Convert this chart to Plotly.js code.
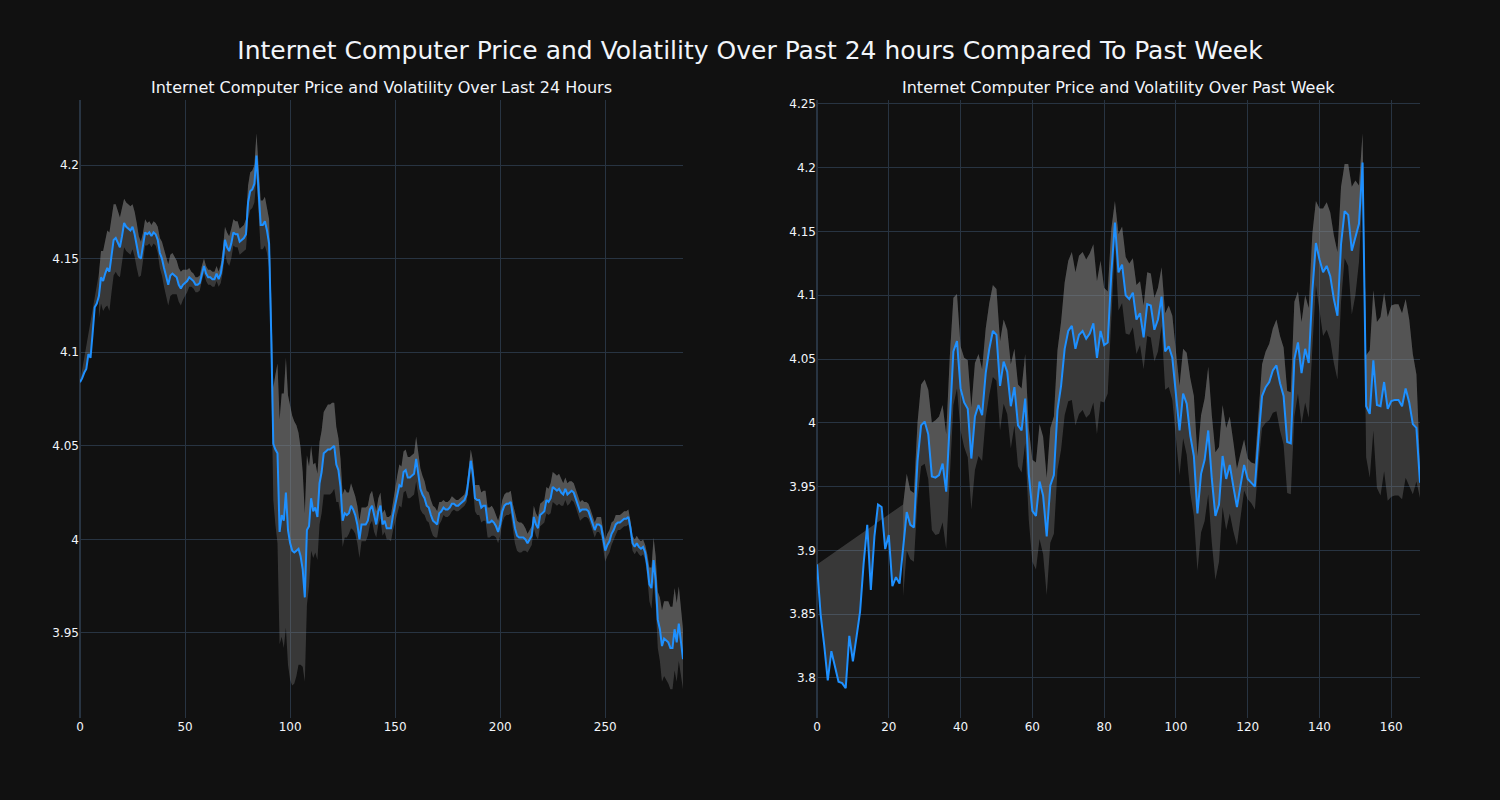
<!DOCTYPE html>
<html>
<head>
<meta charset="utf-8">
<script src="https://cdn.plot.ly/plotly-3.0.1.min.js"></script>
<style>html,body{margin:0;padding:0;background:#111111;}#chart{width:1500px;height:800px;}</style>
</head>
<body>
<div id="chart"></div>
<script>
// ---- Data: last 24 hours (5-minute steps) ----
const dayPrice = [
4.084,4.086,4.089,4.091,4.099,4.097,4.110,4.124,4.126,4.130,
4.140,4.138,4.142,4.145,4.143,4.152,4.160,4.161,4.158,4.156,
4.162,4.169,4.167,4.166,4.165,4.167,4.163,4.157,4.151,4.150,
4.156,4.164,4.163,4.164,4.162,4.164,4.163,4.160,4.153,4.150,
4.145,4.140,4.136,4.141,4.142,4.141,4.140,4.136,4.134,4.136,
4.137,4.138,4.140,4.139,4.138,4.136,4.136,4.137,4.142,4.146,
4.142,4.140,4.140,4.139,4.139,4.142,4.139,4.142,4.149,4.160,
4.156,4.154,4.158,4.164,4.163,4.163,4.159,4.160,4.161,4.163,
4.180,4.186,4.187,4.190,4.205,4.186,4.168,4.168,4.170,4.165,
4.158,4.110,4.051,4.048,4.046,4.004,4.013,4.010,4.025,4.005,
3.998,3.994,3.993,3.994,3.995,3.991,3.984,3.969,4.005,4.007,
4.022,4.015,4.017,4.012,4.030,4.036,4.046,4.047,4.048,4.048,
4.049,4.050,4.040,4.037,4.028,4.010,4.014,4.013,4.014,4.018,
4.016,4.013,4.008,4.000,4.008,4.008,4.008,4.010,4.016,4.018,
4.012,4.008,4.015,4.018,4.008,4.010,4.006,4.006,4.006,4.013,
4.018,4.024,4.029,4.028,4.036,4.037,4.033,4.033,4.034,4.035,
4.043,4.034,4.027,4.024,4.022,4.018,4.017,4.013,4.010,4.009,
4.008,4.014,4.015,4.017,4.016,4.016,4.017,4.019,4.019,4.018,
4.018,4.019,4.020,4.021,4.024,4.032,4.042,4.035,4.022,4.021,
4.021,4.017,4.018,4.018,4.009,4.009,4.010,4.009,4.007,4.004,
4.008,4.015,4.018,4.019,4.019,4.020,4.012,4.006,4.002,4.001,
4.001,4.001,4.000,3.998,4.000,4.002,4.012,4.008,4.006,4.013,
4.014,4.015,4.021,4.020,4.022,4.028,4.027,4.026,4.027,4.025,
4.024,4.027,4.024,4.025,4.026,4.025,4.022,4.019,4.015,4.016,
4.016,4.016,4.015,4.012,4.009,4.005,4.008,4.008,4.007,4.000,
3.994,3.997,3.999,4.003,4.005,4.008,4.009,4.009,4.010,4.011,
4.011,4.012,4.006,3.998,3.996,3.998,3.996,3.995,3.996,3.993,
3.986,3.976,3.974,3.989,3.978,3.957,3.952,3.943,3.947,3.946,
3.945,3.942,3.942,3.952,3.945,3.955,3.946,3.936
];
const dayVol = [
null,null,null,null,null,null,null,null,null,0.012,
0.014,0.016,0.018,0.020,0.021,0.020,0.019,0.018,0.017,0.016,
0.015,0.013,0.013,0.013,0.013,0.012,0.012,0.012,0.011,0.009,
0.008,0.007,0.006,0.006,0.006,0.006,0.006,0.007,0.008,0.009,
0.010,0.011,0.011,0.011,0.011,0.010,0.009,0.009,0.009,0.008,
0.007,0.006,0.005,0.004,0.004,0.004,0.004,0.004,0.004,0.004,
0.004,0.004,0.004,0.004,0.004,0.004,0.004,0.005,0.006,0.007,
0.008,0.008,0.008,0.007,0.007,0.007,0.007,0.007,0.007,0.008,
0.009,0.010,0.010,0.010,0.012,0.013,0.013,0.013,0.013,0.012,
0.013,0.020,0.030,0.040,0.048,0.060,0.065,0.068,0.072,0.072,
0.073,0.072,0.070,0.067,0.062,0.058,0.052,0.045,0.040,0.032,
0.028,0.025,0.024,0.023,0.022,0.022,0.022,0.023,0.024,0.024,
0.024,0.023,0.020,0.017,0.015,0.014,0.013,0.012,0.011,0.012,
0.011,0.010,0.010,0.010,0.009,0.009,0.009,0.008,0.008,0.008,
0.008,0.007,0.007,0.007,0.006,0.006,0.006,0.006,0.007,0.008,
0.009,0.010,0.011,0.011,0.011,0.011,0.011,0.011,0.011,0.011,
0.012,0.012,0.011,0.010,0.009,0.008,0.008,0.008,0.008,0.008,
0.007,0.006,0.005,0.004,0.004,0.004,0.004,0.004,0.003,0.003,
0.003,0.003,0.003,0.003,0.004,0.005,0.006,0.007,0.007,0.008,
0.008,0.008,0.008,0.008,0.008,0.008,0.008,0.007,0.006,0.006,
0.006,0.006,0.006,0.006,0.006,0.006,0.007,0.008,0.008,0.008,
0.008,0.007,0.006,0.005,0.005,0.005,0.006,0.006,0.006,0.006,
0.006,0.006,0.007,0.007,0.008,0.008,0.008,0.008,0.008,0.007,
0.006,0.006,0.006,0.006,0.005,0.005,0.005,0.005,0.005,0.005,
0.004,0.004,0.004,0.004,0.004,0.004,0.004,0.004,0.005,0.005,
0.006,0.006,0.006,0.006,0.005,0.005,0.004,0.004,0.004,0.004,
0.004,0.004,0.004,0.004,0.004,0.004,0.004,0.004,0.004,0.004,
0.006,0.009,0.011,0.012,0.013,0.015,0.017,0.019,0.020,0.021,
0.022,0.022,0.022,0.022,0.021,0.020,0.019,0.016
];

// ---- Data: past week (hourly) ----
const weekPrice = [
3.889,3.850,3.826,3.798,3.821,3.810,3.797,3.796,3.792,3.833,
3.813,3.832,3.852,3.890,3.920,3.869,3.911,3.936,3.934,3.901,
3.912,3.872,3.879,3.874,3.900,3.930,3.920,3.918,3.970,3.998,
4.001,3.991,3.958,3.957,3.959,3.968,3.946,4.007,4.056,4.064,
4.027,4.016,4.011,3.972,4.005,4.014,4.006,4.039,4.058,4.072,
4.069,4.029,4.048,4.040,4.013,4.028,3.998,3.994,4.019,3.960,
3.931,3.927,3.954,3.943,3.911,3.951,3.959,4.010,4.029,4.058,
4.072,4.076,4.058,4.069,4.072,4.066,4.070,4.078,4.051,4.072,
4.061,4.063,4.117,4.157,4.118,4.124,4.100,4.097,4.102,4.081,
4.086,4.067,4.093,4.092,4.073,4.081,4.099,4.056,4.060,4.051,
4.022,3.994,4.023,4.015,3.990,3.974,3.929,3.960,3.971,3.994,
3.956,3.927,3.936,3.974,3.956,3.967,3.950,3.934,3.951,3.967,
3.956,3.953,3.950,3.988,4.021,4.028,4.032,4.041,4.045,4.031,
4.021,3.985,3.984,4.050,4.063,4.039,4.058,4.047,4.103,4.141,
4.128,4.118,4.123,4.115,4.097,4.084,4.140,4.166,4.163,4.135,
4.145,4.156,4.204,4.013,4.007,4.049,4.014,4.013,4.032,4.011,
4.017,4.018,4.018,4.013,4.027,4.016,3.999,3.996,3.953
];
const weekVol = [
null,null,null,null,null,null,null,null,null,null,
null,null,null,null,null,null,null,null,null,null,
null,null,null,null,0.036,0.030,0.027,0.027,0.030,0.032,
0.033,0.035,0.042,0.045,0.046,0.046,0.045,0.045,0.042,0.037,
0.033,0.035,0.038,0.040,0.042,0.040,0.036,0.035,0.036,0.036,
0.036,0.035,0.033,0.033,0.033,0.030,0.032,0.033,0.035,0.036,
0.040,0.042,0.045,0.046,0.046,0.045,0.046,0.047,0.050,0.052,
0.055,0.058,0.060,0.062,0.062,0.062,0.063,0.062,0.060,0.055,
0.045,0.040,0.035,0.017,0.030,0.030,0.030,0.028,0.027,0.027,
0.025,0.025,0.025,0.025,0.025,0.025,0.023,0.030,0.032,0.033,
0.034,0.035,0.035,0.040,0.045,0.047,0.045,0.046,0.048,0.050,
0.050,0.050,0.045,0.040,0.040,0.038,0.035,0.030,0.025,0.020,
0.016,0.016,0.018,0.020,0.025,0.028,0.030,0.033,0.036,0.037,
0.038,0.040,0.040,0.045,0.040,0.040,0.042,0.043,0.045,0.033,
0.040,0.050,0.050,0.050,0.050,0.050,0.045,0.037,0.040,0.050,
0.045,0.030,0.023,0.040,0.050,0.055,0.065,0.070,0.070,0.072,
0.075,0.075,0.075,0.073,0.070,0.065,0.055,0.042,0.012
];

const mainTitle = "Internet Computer Price and Volatility Over Past 24 hours Compared To Past Week";
const leftTitle = "Internet Computer Price and Volatility Over Last 24 Hours";
const rightTitle = "Internet Computer Price and Volatility Over Past Week";

// ---- Build traces ----
function bandTraces(price, vol, xa, ya) {
  const x = price.map((_, i) => i);
  const upper = price.map((p, i) => vol[i] == null ? null : p + vol[i]);
  const lower = price.map((p, i) => vol[i] == null ? null : p - vol[i]);
  return [
    {x: x, y: lower, mode: 'lines', line: {width: 0, color: 'rgba(0,0,0,0)'},
     hoverinfo: 'skip', showlegend: false, xaxis: xa, yaxis: ya},
    {x: x, y: upper, mode: 'lines', line: {width: 0, color: 'rgba(0,0,0,0)'},
     fill: 'tonexty', fillcolor: 'rgba(128,128,128,0.36)',
     hoverinfo: 'skip', showlegend: false, xaxis: xa, yaxis: ya},
    {x: x, y: price, mode: 'lines', line: {width: 2, color: '#1e90ff'},
     fill: 'tonexty', fillcolor: 'rgba(150,150,150,0.30)',
     showlegend: false, xaxis: xa, yaxis: ya}
  ];
}

const data = [].concat(
  bandTraces(dayPrice, dayVol, 'x', 'y'),
  bandTraces(weekPrice, weekVol, 'x2', 'y2')
);

const fontFam = 'DejaVu Sans, sans-serif';
const txt = '#f2f5fa';
const grid = '#283442';

function xAxis(domain, range, dtick, anchor) {
  return {domain: domain, range: range, dtick: dtick, tick0: 0, anchor: anchor,
    gridcolor: grid, zeroline: true, zerolinecolor: grid, zerolinewidth: 2,
    showline: false, ticks: '', tickfont: {size: 12, color: txt, family: fontFam}};
}
function yAxis(range, anchor) {
  return {domain: [0, 1], range: range, dtick: 0.05, tick0: 0, anchor: anchor,
    gridcolor: grid, zeroline: false, showline: false, ticks: '',
    tickfont: {size: 12, color: txt, family: fontFam}};
}

const layout = {
  width: 1500, height: 800,
  paper_bgcolor: '#111111', plot_bgcolor: '#111111',
  font: {family: fontFam, color: txt, size: 12},
  margin: {l: 80, r: 80, t: 100, b: 82},
  title: {text: mainTitle, x: 0.5, xanchor: 'center', y: 0.9375, yanchor: 'middle',
          yref: 'container', font: {size: 25, color: txt, family: fontFam}},
  showlegend: false,
  xaxis: xAxis([0, 0.45], [0, 287], 50, 'y'),
  yaxis: yAxis([3.90459, 4.23472], 'x'),
  xaxis2: xAxis([0.55, 1], [0, 168], 20, 'y2'),
  yaxis2: yAxis([3.7686, 4.2531], 'x2'),
  annotations: [
    {text: leftTitle, xref: 'paper', yref: 'paper', x: 0.225, y: 1, xanchor: 'center',
     yanchor: 'bottom', yshift: 1, showarrow: false, font: {size: 16, color: txt, family: fontFam}},
    {text: rightTitle, xref: 'paper', yref: 'paper', x: 0.775, y: 1, xanchor: 'center',
     yanchor: 'bottom', yshift: 1, showarrow: false, font: {size: 16, color: txt, family: fontFam}}
  ]
};

Plotly.newPlot('chart', data, layout, {displayModeBar: false, responsive: false});
</script>
</body>
</html>
